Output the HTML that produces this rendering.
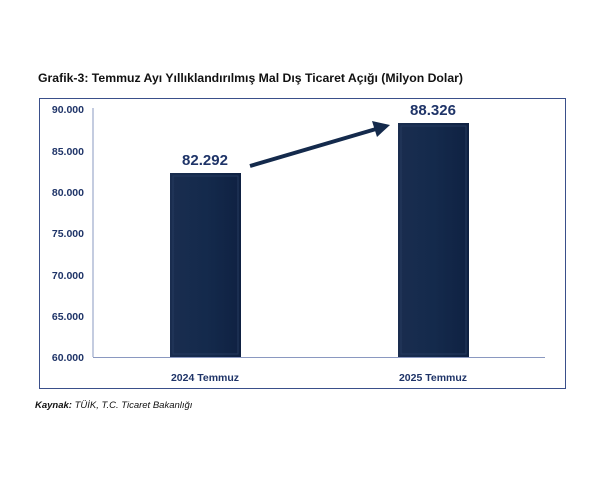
<!DOCTYPE html>
<html><head><style>
body{margin:0;background:#fff;width:600px;height:480px;overflow:hidden;font-family:"Liberation Sans",sans-serif}
</style></head><body>
<svg width="600" height="480" xmlns="http://www.w3.org/2000/svg" font-family="Liberation Sans, sans-serif">
<defs>
<linearGradient id="g" x1="0" x2="1" y1="0" y2="0">
<stop offset="0" stop-color="#1a2d4f"/><stop offset="0.5" stop-color="#142a4c"/><stop offset="1" stop-color="#0f2142"/>
</linearGradient>
</defs>
<text x="38" y="82" font-size="12" font-weight="bold" fill="#111" textLength="425" lengthAdjust="spacingAndGlyphs">Grafik-3: Temmuz Ayı Yıllıklandırılmış Mal Dış Ticaret Açığı (Milyon Dolar)</text>
<rect x="39.5" y="98.5" width="526" height="290" fill="none" stroke="#3a4f8a" stroke-width="1"/>
<line x1="93" y1="108" x2="93" y2="357" stroke="#8a98c0" stroke-width="1"/>
<line x1="93" y1="357.5" x2="545" y2="357.5" stroke="#8a98c0" stroke-width="1"/>
<g font-size="10.5" font-weight="bold" fill="#1f3468" text-anchor="end">
<text x="84" y="113">90.000</text>
<text x="84" y="155">85.000</text>
<text x="84" y="196">80.000</text>
<text x="84" y="237">75.000</text>
<text x="84" y="279">70.000</text>
<text x="84" y="320">65.000</text>
<text x="84" y="361">60.000</text>
</g>
<rect x="170" y="173" width="71" height="184" fill="url(#g)"/>
<rect x="173" y="176" width="65" height="178" fill="none" stroke="#24395e" stroke-width="1"/>
<rect x="398" y="123" width="71" height="234" fill="url(#g)"/>
<rect x="401" y="126" width="65" height="228" fill="none" stroke="#24395e" stroke-width="1"/>
<g font-size="15" font-weight="bold" fill="#1f3468" text-anchor="middle">
<text x="205" y="165">82.292</text>
<text x="433" y="115">88.326</text>
</g>
<line x1="250" y1="166" x2="376" y2="129" stroke="#142a4c" stroke-width="4"/>
<polygon points="390,125 372,121 377,137" fill="#142a4c"/>
<g font-size="10.5" font-weight="bold" fill="#1f3468" text-anchor="middle">
<text x="205" y="381">2024 Temmuz</text>
<text x="433" y="381">2025 Temmuz</text>
</g>
<text x="35" y="408" font-size="9.5" font-style="italic" fill="#111"><tspan font-weight="bold">Kaynak:</tspan> TÜİK, T.C. Ticaret Bakanlığı</text>
</svg>
</body></html>
